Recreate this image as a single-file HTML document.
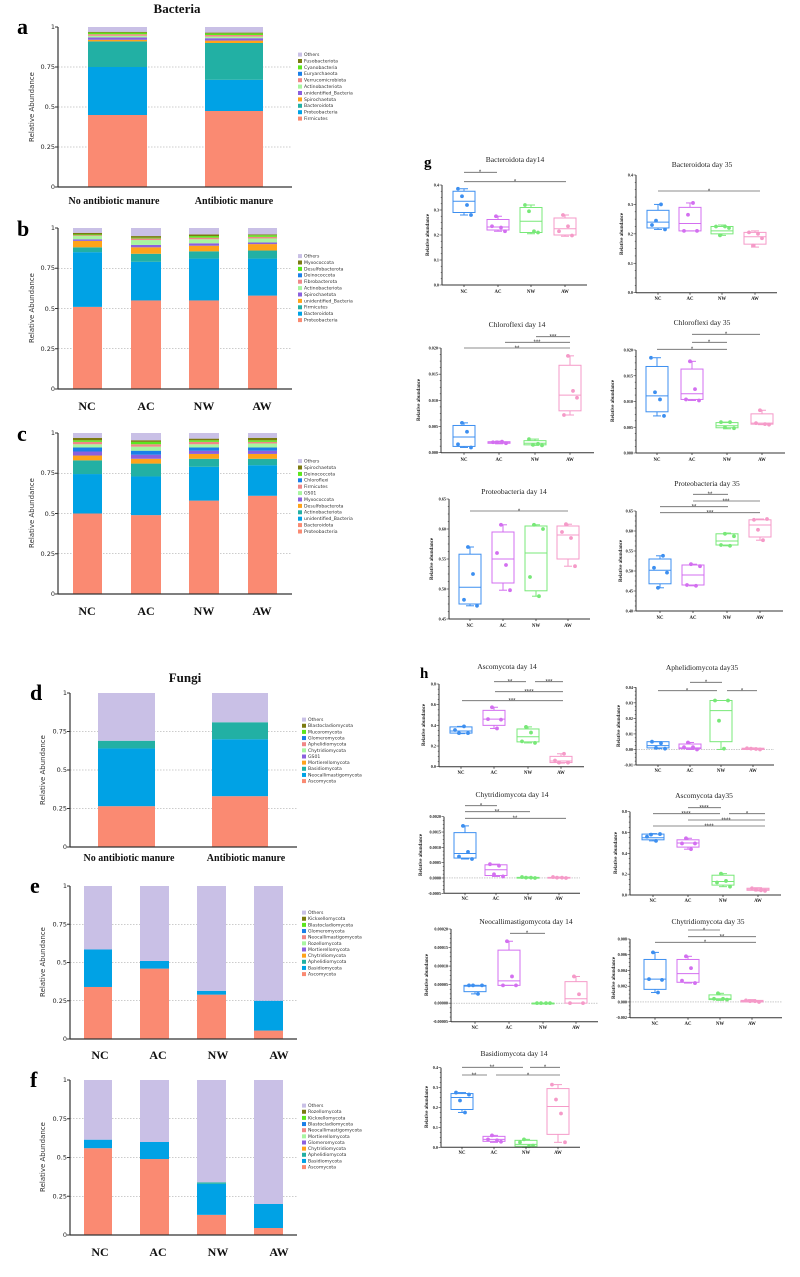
<!DOCTYPE html>
<html><head><meta charset="utf-8"><style>
html,body{margin:0;padding:0;background:#fff}
svg{display:block}
.t{font-family:"Liberation Serif",serif;font-size:7.5px;fill:#222;text-anchor:middle}
.big{font-family:"Liberation Serif",serif;font-weight:bold;font-size:22px;fill:#000}
.hd{font-family:"Liberation Serif",serif;font-weight:bold;font-size:13px;fill:#111;text-anchor:middle}
.xl{font-family:"Liberation Serif",serif;font-weight:bold;font-size:10px;fill:#111;text-anchor:middle}
.xg{font-family:"Liberation Serif",serif;font-weight:bold;font-size:12px;fill:#111;text-anchor:middle}
.yt{font-family:"DejaVu Sans",sans-serif;font-size:6.5px;fill:#222;text-anchor:end}
.yl{font-family:"DejaVu Sans",sans-serif;font-size:7px;fill:#333;text-anchor:middle}
.lg{font-family:"DejaVu Sans",sans-serif;font-size:4.6px;fill:#333}
.bt{font-family:"Liberation Serif",serif;font-weight:bold;font-size:4.2px;fill:#222;text-anchor:end}
.bx{font-family:"Liberation Serif",serif;font-weight:bold;font-size:4.8px;fill:#222;text-anchor:middle}
.by{font-family:"Liberation Serif",serif;font-weight:bold;font-size:5px;fill:#222;text-anchor:middle}
.st{font-family:"Liberation Sans",sans-serif;font-size:6px;fill:#333;text-anchor:middle}
</style></head><body>
<svg id="s" xmlns="http://www.w3.org/2000/svg" width="800" height="1277" viewBox="0 0 800 1277">
<g id="shapes"></g>
<!-- LEFT: bacteria -->
<text class="hd" x="177" y="13">Bacteria</text>
<text class="big" x="17" y="34">a</text>
<text class="big" x="17" y="236">b</text>
<text class="big" x="17" y="441">c</text>
<text class="yl" transform="translate(34,107) rotate(-90)">Relative Abundance</text>
<text class="yl" transform="translate(34,308) rotate(-90)">Relative Abundance</text>
<text class="yl" transform="translate(34,513) rotate(-90)">Relative Abundance</text>
<g class="yt">
<text x="55" y="29">1</text><text x="55" y="69">0.75</text><text x="55" y="109">0.5</text><text x="55" y="149">0.25</text><text x="55" y="189">0</text>
<text x="55" y="230">1</text><text x="55" y="270">0.75</text><text x="55" y="311">0.5</text><text x="55" y="351">0.25</text><text x="55" y="391">0</text>
<text x="55" y="435">1</text><text x="55" y="475">0.75</text><text x="55" y="516">0.5</text><text x="55" y="556">0.25</text><text x="55" y="596">0</text>
</g>
<text class="xl" x="114" y="204">No antibiotic manure</text>
<text class="xl" x="234" y="204">Antibiotic manure</text>
<g class="xg"><text x="87" y="410">NC</text><text x="146" y="410">AC</text><text x="204" y="410">NW</text><text x="262" y="410">AW</text>
<text x="87" y="615">NC</text><text x="146" y="615">AC</text><text x="204" y="615">NW</text><text x="262" y="615">AW</text></g>
<g class="lg">
<text x="304" y="56">Others</text><text x="304" y="62.4">Fusobacteriota</text><text x="304" y="68.8">Cyanobacteria</text><text x="304" y="75.2">Euryarchaeota</text><text x="304" y="81.6">Verrucomicrobiota</text><text x="304" y="88">Actinobacteriota</text><text x="304" y="94.4">unidentified_Bacteria</text><text x="304" y="100.8">Spirochaetota</text><text x="304" y="107.2">Bacteroidota</text><text x="304" y="113.6">Proteobacteria</text><text x="304" y="120">Firmicutes</text>
<text x="304" y="257.5">Others</text><text x="304" y="263.9">Myxococcota</text><text x="304" y="270.3">Desulfobacterota</text><text x="304" y="276.7">Deinococcota</text><text x="304" y="283.1">Fibrobacterota</text><text x="304" y="289.5">Actinobacteriota</text><text x="304" y="295.9">Spirochaetota</text><text x="304" y="302.3">unidentified_Bacteria</text><text x="304" y="308.7">Firmicutes</text><text x="304" y="315.1">Bacteroidota</text><text x="304" y="321.5">Proteobacteria</text>
<text x="304" y="462.5">Others</text><text x="304" y="468.9">Spirochaetota</text><text x="304" y="475.3">Deinococcota</text><text x="304" y="481.7">Chloroflexi</text><text x="304" y="488.1">Firmicutes</text><text x="304" y="494.5">GS01</text><text x="304" y="500.9">Myxococcota</text><text x="304" y="507.3">Desulfobacterota</text><text x="304" y="513.7">Actinobacteriota</text><text x="304" y="520.1">unidentified_Bacteria</text><text x="304" y="526.5">Bacteroidota</text><text x="304" y="532.9">Proteobacteria</text>
</g>
<!-- LEFT: fungi -->
<text class="hd" x="185" y="682">Fungi</text>
<text class="big" x="30" y="700">d</text>
<text class="big" x="30" y="893">e</text>
<text class="big" x="30" y="1087">f</text>
<text class="yl" transform="translate(45,770) rotate(-90)">Relative Abundance</text>
<text class="yl" transform="translate(45,962) rotate(-90)">Relative Abundance</text>
<text class="yl" transform="translate(45,1157) rotate(-90)">Relative Abundance</text>
<g class="yt">
<text x="67" y="695">1</text><text x="67" y="733.5">0.75</text><text x="67" y="772">0.5</text><text x="67" y="810.5">0.25</text><text x="67" y="849">0</text>
<text x="67" y="888">1</text><text x="67" y="926.3">0.75</text><text x="67" y="964.5">0.5</text><text x="67" y="1002.8">0.25</text><text x="67" y="1041">0</text>
<text x="67" y="1082">1</text><text x="67" y="1120.8">0.75</text><text x="67" y="1159.5">0.5</text><text x="67" y="1198.3">0.25</text><text x="67" y="1237">0</text>
</g>
<text class="xl" x="129" y="861">No antibiotic manure</text>
<text class="xl" x="246" y="861">Antibiotic manure</text>
<g class="xg"><text x="100" y="1059">NC</text><text x="158" y="1059">AC</text><text x="218" y="1059">NW</text><text x="279" y="1059">AW</text>
<text x="100" y="1256">NC</text><text x="158" y="1256">AC</text><text x="218" y="1256">NW</text><text x="279" y="1256">AW</text></g>
<g class="lg">
<text x="308" y="721">Others</text><text x="308" y="727.2">Blastocladiomycota</text><text x="308" y="733.3">Mucoromycota</text><text x="308" y="739.5">Glomeromycota</text><text x="308" y="745.6">Aphelidiomycota</text><text x="308" y="751.8">Chytridiomycota</text><text x="308" y="757.9">GS01</text><text x="308" y="764.1">Mortierellomycota</text><text x="308" y="770.2">Basidiomycota</text><text x="308" y="776.4">Neocallimastigomycota</text><text x="308" y="782.5">Ascomycota</text>
<text x="308" y="914">Others</text><text x="308" y="920.2">Kickxellomycota</text><text x="308" y="926.3">Blastocladiomycota</text><text x="308" y="932.5">Glomeromycota</text><text x="308" y="938.6">Neocallimastigomycota</text><text x="308" y="944.8">Rozellomycota</text><text x="308" y="950.9">Mortierellomycota</text><text x="308" y="957.1">Chytridiomycota</text><text x="308" y="963.2">Aphelidiomycota</text><text x="308" y="969.4">Basidiomycota</text><text x="308" y="975.5">Ascomycota</text>
<text x="308" y="1107">Others</text><text x="308" y="1113.2">Rozellomycota</text><text x="308" y="1119.3">Kickxellomycota</text><text x="308" y="1125.5">Blastocladiomycota</text><text x="308" y="1131.6">Neocallimastigomycota</text><text x="308" y="1137.8">Mortierellomycota</text><text x="308" y="1143.9">Glomeromycota</text><text x="308" y="1150.1">Chytridiomycota</text><text x="308" y="1156.2">Aphelidiomycota</text><text x="308" y="1162.4">Basidiomycota</text><text x="308" y="1168.5">Ascomycota</text>
</g>
<!-- RIGHT: g -->
<text class="big" x="424" y="167" style="font-size:15px">g</text>
<text class="big" x="420" y="678" style="font-size:15px">h</text>
<g class="t">
<text x="515" y="162">Bacteroidota day14</text>
<text x="702" y="167">Bacteroidota day 35</text>
<text x="517" y="327">Chloroflexi day 14</text>
<text x="702" y="325">Chloroflexi day 35</text>
<text x="514" y="494">Proteobacteria day 14</text>
<text x="707" y="486">Proteobacteria day 35</text>
<text x="507" y="669">Ascomycota day 14</text>
<text x="702" y="670">Aphelidiomycota day35</text>
<text x="512" y="797">Chytridiomycota day 14</text>
<text x="704" y="798">Ascomycota day35</text>
<text x="526" y="924">Neocallimastigomycota day 14</text>
<text x="708" y="924">Chytridiomycota day 35</text>
<text x="514" y="1056">Basidiomycota day 14</text>
</g>
<g class="by">
<text transform="translate(429,235) rotate(-90)">Relative abundance</text>
<text transform="translate(623,234) rotate(-90)">Relative abundance</text>
<text transform="translate(420,400) rotate(-90)">Relative abundance</text>
<text transform="translate(614,401) rotate(-90)">Relative abundance</text>
<text transform="translate(433,559) rotate(-90)">Relative abundance</text>
<text transform="translate(622,561) rotate(-90)">Relative abundance</text>
<text transform="translate(425,725) rotate(-90)">Relative abundance</text>
<text transform="translate(620,726) rotate(-90)">Relative abundance</text>
<text transform="translate(422,855) rotate(-90)">Relative abundance</text>
<text transform="translate(617,853) rotate(-90)">Relative abundance</text>
<text transform="translate(428,975) rotate(-90)">Relative abundance</text>
<text transform="translate(615,978) rotate(-90)">Relative abundance</text>
<text transform="translate(428,1107) rotate(-90)">Relative abundance</text>
</g>
<g class="bt">
<text x="439" y="186.5">0.4</text><text x="439" y="211.5">0.3</text><text x="439" y="236.5">0.2</text><text x="439" y="261.5">0.1</text><text x="439" y="286.5">0.0</text>
<text x="633" y="176.5">0.4</text><text x="633" y="206">0.3</text><text x="633" y="235.3">0.2</text><text x="633" y="264.8">0.1</text><text x="633" y="294.2">0.0</text>
<text x="438" y="349.5">0.020</text><text x="438" y="375.7">0.015</text><text x="438" y="401.9">0.010</text><text x="438" y="428">0.005</text><text x="438" y="454.2">0.000</text>
<text x="633" y="351.5">0.020</text><text x="633" y="377.3">0.015</text><text x="633" y="403">0.010</text><text x="633" y="428.8">0.005</text><text x="633" y="454.5">0.000</text>
<text x="446" y="500.5">0.65</text><text x="446" y="530.5">0.60</text><text x="446" y="560.5">0.55</text><text x="446" y="590.5">0.50</text><text x="446" y="620.5">0.45</text>
<text x="633" y="512.5">0.65</text><text x="633" y="532.5">0.60</text><text x="633" y="552.5">0.55</text><text x="633" y="572.5">0.50</text><text x="633" y="592.5">0.45</text><text x="633" y="612.5">0.40</text>
<text x="436" y="685.5">0.8</text><text x="436" y="706.2">0.6</text><text x="436" y="726.8">0.4</text><text x="436" y="747.5">0.2</text><text x="436" y="768.2">0.0</text>
<text x="633" y="688.8">0.04</text><text x="633" y="704.4">0.03</text><text x="633" y="719.9">0.02</text><text x="633" y="735.5">0.01</text><text x="633" y="750.9">0.00</text><text x="633" y="766.5">-0.01</text>
<text x="441" y="818.2">0.0020</text><text x="441" y="833.5">0.0015</text><text x="441" y="848.8">0.0010</text><text x="441" y="864.2">0.0005</text><text x="441" y="879.5">0.0000</text><text x="441" y="894.8">-0.0005</text>
<text x="627" y="813.2">0.8</text><text x="627" y="834">0.6</text><text x="627" y="854.8">0.4</text><text x="627" y="875.7">0.2</text><text x="627" y="896.5">0.0</text>
<text x="448" y="930.5">0.00020</text><text x="448" y="949">0.00015</text><text x="448" y="967.6">0.00010</text><text x="448" y="986.1">0.00005</text><text x="448" y="1004.6">0.00000</text><text x="448" y="1023.2">-0.00005</text>
<text x="627" y="940.5">0.008</text><text x="627" y="956.2">0.006</text><text x="627" y="972">0.004</text><text x="627" y="987.7">0.002</text><text x="627" y="1003.5">0.000</text><text x="627" y="1019.2">-0.002</text>
<text x="438" y="1069.2">0.4</text><text x="438" y="1089.1">0.3</text><text x="438" y="1109">0.2</text><text x="438" y="1128.9">0.1</text><text x="438" y="1148.8">0.0</text>
</g>
<g class="bx">
<text x="464" y="293">NC</text><text x="498" y="293">AC</text><text x="531" y="293">NW</text><text x="565" y="293">AW</text>
<text x="658" y="300">NC</text><text x="690" y="300">AC</text><text x="722" y="300">NW</text><text x="755" y="300">AW</text>
<text x="464" y="461">NC</text><text x="499" y="461">AC</text><text x="535" y="461">NW</text><text x="570" y="461">AW</text>
<text x="657" y="461">NC</text><text x="692" y="461">AC</text><text x="727" y="461">NW</text><text x="762" y="461">AW</text>
<text x="470" y="627">NC</text><text x="503" y="627">AC</text><text x="536" y="627">NW</text><text x="568" y="627">AW</text>
<text x="660" y="619">NC</text><text x="693" y="619">AC</text><text x="727" y="619">NW</text><text x="760" y="619">AW</text>
<text x="461" y="774">NC</text><text x="494" y="774">AC</text><text x="528" y="774">NW</text><text x="561" y="774">AW</text>
<text x="658" y="772">NC</text><text x="690" y="772">AC</text><text x="721" y="772">NW</text><text x="753" y="772">AW</text>
<text x="465" y="900">NC</text><text x="496" y="900">AC</text><text x="528" y="900">NW</text><text x="559" y="900">AW</text>
<text x="653" y="902">NC</text><text x="688" y="902">AC</text><text x="723" y="902">NW</text><text x="758" y="902">AW</text>
<text x="475" y="1029">NC</text><text x="509" y="1029">AC</text><text x="543" y="1029">NW</text><text x="576" y="1029">AW</text>
<text x="655" y="1025">NC</text><text x="688" y="1025">AC</text><text x="720" y="1025">NW</text><text x="752" y="1025">AW</text>
<text x="462" y="1154">NC</text><text x="494" y="1154">AC</text><text x="526" y="1154">NW</text><text x="558" y="1154">AW</text>
</g>
<g class="st">
<text x="480" y="174">*</text><text x="515" y="183.5">*</text>
<text x="709" y="193">*</text>
<text x="553" y="338.5">***</text><text x="537" y="344">***</text><text x="517" y="350">**</text>
<text x="726" y="336">*</text><text x="709" y="344">*</text><text x="692" y="351">*</text>
<text x="519" y="513">*</text>
<text x="710" y="496">**</text><text x="726" y="503">***</text><text x="694" y="508.5">**</text><text x="710" y="514.5">***</text>
<text x="510" y="683.5">**</text><text x="549" y="683.5">***</text><text x="529" y="693.5">****</text><text x="512" y="702.5">***</text>
<text x="706" y="684">*</text><text x="687" y="692.5">*</text><text x="742" y="692.5">*</text>
<text x="481" y="807.5">*</text><text x="497" y="813.5">**</text><text x="515" y="820">**</text>
<text x="704" y="809.5">****</text><text x="686" y="815.5">****</text><text x="747" y="815.5">*</text><text x="726" y="822">****</text><text x="709" y="828">****</text>
<text x="527" y="935">*</text>
<text x="704" y="932">*</text><text x="722" y="938.5">**</text><text x="705" y="944">*</text>
<text x="492" y="1069">**</text><text x="545" y="1069">*</text><text x="474" y="1077">**</text><text x="528" y="1077">*</text>
</g>
</svg>
<script>
(function(){
var NS='http://www.w3.org/2000/svg',G=document.getElementById('shapes');
function e(t,a){var n=document.createElementNS(NS,t);for(var k in a)n.setAttribute(k,a[k]);G.appendChild(n);return n;}
function ln(x1,y1,x2,y2,c,w,d){var o={x1:x1,y1:y1,x2:x2,y2:y2,stroke:c||'#222','stroke-width':w||1};if(d)o['stroke-dasharray']=d;e('line',o);}
var S='#fa8a72',B='#00a2e5',T='#22b0a4',O='#ffa31a',P='#8b60de',K='#f08787',L='#a8f5a0',Gr='#5ce61e',V='#7a7a10',W='#c9c0e6',B2='#1a7fe8';
function bars(ax,xe,yT,yB,xs,st){
 [.25,.5,.75].forEach(function(v){var y=yB-(yB-yT)*v;ln(ax,y,xe,y,'#999',0.6,'1.5,1.5');});
 xs.forEach(function(x,i){st[i].reduce(function(p,s){var y0=yB-(yB-yT)*p,y1=yB-(yB-yT)*s[0];e('rect',{x:x[0],y:y1,width:x[1]-x[0],height:y0-y1,fill:s[1]});return s[0];},0);});
 ln(ax,yT,ax,yB,'#333',1.2);ln(ax,yB,xe,yB,'#333',1.2);
 [1,.75,.5,.25,0].forEach(function(v){var y=yB-(yB-yT)*v;ln(ax-3,y,ax,y,'#333',1);});
}
function leg(x,y,dy,cols){cols.forEach(function(c,i){e('rect',{x:x,y:y+i*dy-3.4,width:4,height:4,fill:c});});}
var bx4=[[73,102],[131,161],[189,219],[248,277]],fx4=[[84,112],[140,169],[197,226],[254,283]];
bars(58,292,27,187,[[88,147],[205,263]],[
 [[.45,S],[.75,B],[.91,T],[.92,O],[.935,P],[.945,L],[.955,K],[.965,Gr],[.97,V],[1,W]],
 [[.475,S],[.67,B],[.90,T],[.915,O],[.93,P],[.94,L],[.95,K],[.96,Gr],[.965,V],[1,W]]]);
bars(58,292,228,389,bx4,[
 [[.51,S],[.85,B],[.88,T],[.92,O],[.93,P],[.95,L],[.955,K],[.96,Gr],[.97,V],[1,W]],
 [[.55,S],[.79,B],[.84,T],[.88,O],[.895,P],[.925,L],[.935,K],[.94,Gr],[.95,V],[1,W]],
 [[.55,S],[.81,B],[.855,T],[.89,O],[.905,P],[.93,L],[.94,K],[.95,Gr],[.96,V],[1,W]],
 [[.58,S],[.81,B],[.86,T],[.90,O],[.91,P],[.935,L],[.945,K],[.955,Gr],[.96,V],[1,W]]]);
bars(58,292,433,594,bx4,[
 [[.5,S],[.745,B],[.83,T],[.86,O],[.885,P],[.91,B2],[.93,L],[.945,K],[.955,Gr],[.97,V],[1,W]],
 [[.49,S],[.73,B],[.81,T],[.84,O],[.865,P],[.89,B2],[.915,L],[.93,K],[.945,Gr],[.955,V],[1,W]],
 [[.58,S],[.79,B],[.84,T],[.87,O],[.89,P],[.91,B2],[.93,L],[.945,K],[.955,Gr],[.965,V],[1,W]],
 [[.61,S],[.80,B],[.84,T],[.87,O],[.89,P],[.91,B2],[.935,L],[.945,K],[.955,Gr],[.97,V],[1,W]]]);
bars(70,297,693,847,[[98,155],[212,268]],[[[.265,S],[.64,B],[.69,T],[1,W]],[[.33,S],[.70,B],[.81,T],[1,W]]]);
bars(70,297,886,1039,fx4,[[[.34,S],[.585,B],[1,W]],[[.46,S],[.51,B],[1,W]],[[.29,S],[.315,B],[1,W]],[[.055,S],[.25,B],[1,W]]]);
bars(70,297,1080,1235,fx4,[[[.56,S],[.615,B],[1,W]],[[.49,S],[.60,B],[1,W]],[[.13,S],[.33,B],[.34,T],[1,W]],[[.045,S],[.20,B],[1,W]]]);
leg(298,56,6.4,[W,V,Gr,B2,K,L,P,O,T,B,S]);
leg(298,257.5,6.4,[W,V,Gr,B2,K,L,P,O,T,B,S]);
leg(298,462.5,6.4,[W,V,Gr,B2,K,L,P,O,T,B,S,S]);
leg(302,721,6.15,[W,V,Gr,B2,K,L,P,O,T,B,S]);
leg(302,914,6.15,[W,V,Gr,B2,K,L,P,O,T,B,S]);
leg(302,1107,6.15,[W,V,Gr,B2,K,L,P,O,T,B,S]);
var C=['#3d8ff0','#d36ff0','#78e878','#f59ac8'];
function bp(p){
 var f=function(v){return p.yB-(p.yB-p.yT)*(v-p.vB)/(p.vT-p.vB);};
 if(p.z!==undefined)ln(p.ax,f(0),p.xe,f(0),'#aaa',0.6,'1.5,1');
 p.b.forEach(function(b,i){var x=p.xs[i],c=C[i],hw=11;
  ln(x,f(b[0]),x,f(b[1]),c,1);ln(x,f(b[3]),x,f(b[4]),c,1);
  ln(x-4,f(b[0]),x+4,f(b[0]),c,1);ln(x-4,f(b[4]),x+4,f(b[4]),c,1);
  e('rect',{x:x-hw,y:f(b[3]),width:2*hw,height:Math.max(0.8,f(b[1])-f(b[3])),fill:'none',stroke:c,'stroke-width':1});
  ln(x-hw,f(b[2]),x+hw,f(b[2]),c,1);
  var pts=b.slice(5);pts.forEach(function(v,j){e('circle',{cx:x+[-6,-2,3,7][j],cy:f(v),r:1.9,fill:c});});
 });
 ln(p.ax,p.yT,p.ax,p.yB+ (p.xaY?0:0),'#333',1);
 var xa=p.xaY!==undefined?p.xaY:p.yB;ln(p.ax,xa,p.xe,xa,'#333',1);
 var n=p.nt;for(var i=0;i<=n*4;i++){var y=p.yT+(p.yB-p.yT)*i/(n*4);ln(p.ax-(i%4?1.2:2.5),y,p.ax,y,'#333',0.6);}
 p.xs.forEach(function(x){ln(x,xa,x,xa+2,'#333',0.8);});
 p.s.forEach(function(s){ln(s[0],s[2],s[1],s[2],'#666',0.8);});
}
bp({ax:442,xe:587,yT:185,yB:285,vT:.4,vB:0,nt:4,xs:[464,498,531,565],
 b:[[.28,.29,.335,.375,.385,.385,.355,.32,.28],[.215,.22,.232,.262,.275,.235,.275,.23,.215],[.205,.21,.255,.31,.32,.32,.295,.215,.21],[.195,.2,.225,.268,.28,.215,.28,.235,.198]],
 s:[[464,497,172.3],[464,566,181.7]]});
bp({ax:636,xe:777,yT:175,yB:292.7,vT:.4,vB:0,nt:4,xs:[658,690,722,755],
 b:[[.215,.22,.24,.28,.3,.23,.245,.3,.215],[.21,.21,.235,.29,.305,.21,.265,.305,.21],[.195,.2,.21,.225,.23,.225,.195,.225,.22],[.155,.165,.19,.205,.21,.205,.16,.2,.185]],
 s:[[658,760,191]]});
bp({ax:441,xe:594,yT:348,yB:452.7,vT:.02,vB:0,nt:4,xs:[464,499,535,570],
 b:[[.001,.0012,.003,.0052,.0057,.0016,.0057,.004,.001],[.0017,.0018,.002,.0021,.0022,.002,.002,.0021,.0018],[.0014,.0015,.0018,.0023,.0026,.0026,.0015,.0017,.0014],[.0072,.008,.011,.0167,.0185,.0072,.0185,.0118,.0105]],
 s:[[536,570,336.7],[505,570,342.3],[464,570,348]]});
bp({ax:636,xe:785,yT:350,yB:453,vT:.02,vB:0,nt:4,xs:[657,692,727,762],
 b:[[.0072,.008,.0111,.0168,.0185,.0185,.0118,.0104,.0072],[.0102,.0104,.0115,.0163,.0178,.0104,.0178,.0124,.0102],[.0047,.0049,.0053,.0059,.006,.006,.005,.006,.0048],[.0055,.0056,.0058,.0076,.0083,.0058,.0083,.0056,.0055]],
 s:[[692,760,334.3],[692,727,342.3],[657,727,349.3]]});
bp({ax:449,xe:590,yT:499,yB:619,vT:.65,vB:.45,nt:4,xs:[470,503,536,568],
 b:[[.472,.475,.503,.558,.57,.482,.57,.525,.472],[.498,.51,.55,.595,.607,.56,.607,.54,.498],[.488,.497,.56,.605,.607,.52,.607,.488,.6],[.538,.55,.59,.605,.608,.595,.608,.585,.538]],
 s:[[470,568,511]]});
bp({ax:636,xe:783,yT:511,yB:611,vT:.65,vB:.4,nt:5,xs:[660,693,727,760],
 b:[[.458,.468,.502,.53,.538,.508,.458,.538,.496],[.463,.465,.49,.515,.517,.465,.517,.463,.512],[.563,.565,.575,.593,.595,.565,.593,.563,.587],[.577,.585,.615,.628,.63,.628,.603,.577,.63]],
 s:[[693,728,494.3],[693,760,501],[660,728,506.7],[660,760,512.7]]});
bp({ax:439,xe:584,yT:684,yB:766.7,vT:.8,vB:0,nt:4,xs:[461,494,528,561],
 b:[[.32,.325,.345,.385,.39,.355,.325,.39,.325],[.37,.4,.46,.545,.575,.46,.575,.37,.455],[.23,.24,.29,.365,.385,.245,.385,.33,.23],[.035,.04,.055,.1,.125,.06,.04,.125,.04]],
 s:[[494,526,681.7],[535,563,681.7],[495,563,691.7],[462,563,700.7]]});
bp({ax:636,xe:774,yT:687.3,yB:765,vT:.04,vB:-.01,nt:5,z:1,xs:[658,690,721,753],
 b:[[.0005,.001,.0025,.005,.005,.005,.001,.004,.0005],[0,.0005,.001,.0035,.0045,.0015,.0045,.0015,0],[0,.005,.025,.0315,.0315,.0315,.0185,.0005,.0315],[0,0,.0003,.0008,.001,.0008,.0005,.0003,0]],
 s:[[690,722,682.3],[658,717,690.7],[727,757,690.7]]});
bp({ax:444,xe:580,yT:816.7,yB:893.3,vT:.002,vB:-.0005,nt:5,z:1,xs:[465,496,528,559],
 b:[[.00062,.00065,.0008,.00148,.0017,.0007,.0017,.00085,.00062],[.00005,.00008,.00027,.00043,.00045,.00045,.00012,.0004,.00005],[0,0,.00001,.00002,.00003,.00003,.00001,.00001,0],[0,0,.00001,.00002,.00003,.00003,.00001,.00001,0]],
 s:[[465,497,805.7],[465,530,811.7],[465,566,818.3]]});
bp({ax:630,xe:781,yT:811.7,yB:895,vT:.8,vB:0,nt:4,xs:[653,688,723,758],
 b:[[.52,.53,.55,.585,.59,.56,.58,.52,.585],[.44,.46,.5,.53,.545,.495,.545,.44,.495],[.08,.095,.13,.19,.205,.12,.205,.135,.08],[.04,.045,.055,.065,.07,.065,.05,.045,.04]],
 s:[[688,721,807.7],[653,720,813.7],[729,765,813.7],[688,765,820],[653,765,826]]});
bp({ax:451,xe:598,yT:929,yB:1021.7,vT:.0002,vB:-.00005,nt:5,z:1,xs:[475,509,543,576],
 b:[[2.5e-5,3.1e-5,4.6e-5,4.8e-5,4.8e-5,4.8e-5,4.8e-5,2.5e-5,4.8e-5],[4.8e-5,4.8e-5,6e-5,1.43e-4,1.67e-4,4.8e-5,1.67e-4,7.2e-5,4.8e-5],[0,0,0,0,0,0,0,0,0],[0,0,1.2e-5,5.8e-5,7.2e-5,0,7.2e-5,2.4e-5,0]],
 s:[[510,545,933.3]]});
bp({ax:630,xe:782,yT:939,yB:1017.7,vT:.008,vB:-.002,nt:5,z:1,xs:[655,688,720,752],
 b:[[.0012,.0016,.0029,.0054,.0063,.0029,.0063,.0012,.0028],[.0024,.0025,.0036,.0054,.0058,.0027,.0058,.0043,.0024],[.0002,.0003,.0004,.0009,.0011,.0004,.0011,.0004,.0003],[0,0,.0001,.0002,.0003,.0002,.0001,.0001,0]],
 s:[[688,720,930],[688,756,936.7],[655,756,942.3]]});
bp({ax:441,xe:580,yT:1067.7,yB:1147.3,vT:.4,vB:0,nt:4,xs:[462,494,526,558],
 b:[[.175,.19,.25,.27,.275,.275,.235,.175,.265],[.025,.03,.04,.055,.06,.04,.06,.035,.028],[0,.005,.015,.035,.04,.025,.04,.005,.008],[.025,.065,.205,.295,.315,.315,.24,.17,.025]],
 s:[[462,523,1067.3],[530,560,1067.3],[462,487,1075],[496,560,1075]]});
})();
</script>
</body></html>
